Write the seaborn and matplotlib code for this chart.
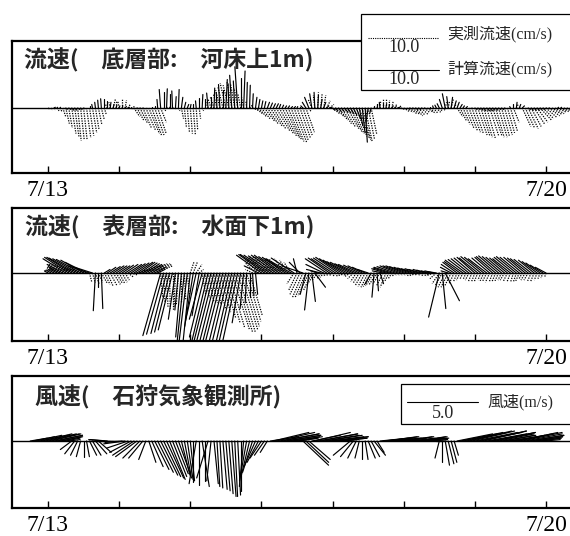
import numpy as np
import pandas as pd
import matplotlib
matplotlib.use("Agg")
import matplotlib.pyplot as plt
from matplotlib.patches import Rectangle
import seaborn as sns

# ---------------- data ----------------
tick_days = [0, 1, 2, 3, 4, 5, 6, 7]
tick_labels = ["7/13", "", "", "", "", "", "", "7/20"]
titles = ["流速(　底層部:　河床上1m)", "流速(　表層部:　水面下1m)", "風速(　石狩気象観測所)"]
legend_labels_current = ["実測流速(cm/s)", "計算流速(cm/s)"]
legend_label_wind = "風速(m/s)"
scale_current = 10.0   # cm/s
scale_wind = 5.0       # m/s

# hourly time steps (hours after 7/13 0:00)
hours_bottom = list(range(0, 177))
hours_surface = list(range(0, 169))
hours_wind = list(range(-6, 169))

# ---- bottom layer, observed (cm/s) ----
u_obs_bottom = (
    [0.3, 0.2, 0.2, 0.3, 0.3, 0.4, 0.5, 0.5, 0.6, 0.6, 0.5, 0.5, 0.5, 0.6, 0.6, 0.6, 0.5, 0.5, 0.4, 0.3, -0.3, -0.2, 0.3, 0.1]
    + [-0.2, 0.0, 0.2, 0.3, 0.5, 0.8, 1.0, 1.1, 1.2, 1.4, 1.5, 1.4, 1.3, 1.2, 0.8, 0.3, 0.1, 0.1, 0.1, 0.2, 0.2, 0.3, 0.3, 0.3]
    + [0.3, 0.3, 0.2, 0.2, 0.2, 0.0, -0.3, -0.4, -0.5, -0.5, -0.6, -0.7, -0.8, -0.8, -0.7, -0.6, -0.5, -0.4, -0.3, -0.1, 0.5, 0.8, 1.0, 1.1]
    + [1.2, 1.4, 1.5, 1.7, 1.8, 1.9, 2.0, 2.0, 2.0, 1.9, 1.8, 1.8, 1.6, 1.5, 1.3, 1.2, 0.3, -0.5, -0.2, 0.1, 0.2, 0.3, 0.5, 0.6]
    + [1.0, 1.2, 1.3, 1.4, 1.5, 1.6, 1.6, 1.5, 1.5, 1.4, 1.2, 1.0, 0.9, 0.8, 0.2, 0.1, 0.1, 0.0, 0.0, 0.1, 0.2, 0.3, 0.5, 0.6]
    + [0.8, 0.9, 1.0, 1.0, 1.0, 0.9, 0.9, 0.8, 0.8, 0.7, 0.6, 0.6, 0.5, 0.4, 0.2, 0.2, 0.3, 0.3, 0.8, 0.9, 1.0, 1.1, 1.2, 1.2]
    + [1.2, 1.3, 1.3, 1.2, 1.2, 1.3, 1.3, 1.2, 1.2, 1.1, 1.1, 1.0, 1.0, 0.8, 0.3, 0.2, 1.2, 1.3, 1.4, 1.4, 1.5, 1.5, 1.6, 1.5]
    + [1.5, 1.5, 1.4, 1.3, 1.2, 1.1, 1.0, 0.9, 0.8])
v_obs_bottom = (
    [-0.2, -0.3, -0.3, -0.4, -0.5, -1.2, -2.2, -2.8, -3.6, -4.0, -4.6, -4.4, -4.5, -4.2, -3.9, -3.5, -3.0, -2.4, -1.6, -1.0, 0.6, 0.8, 1.2, 1.0]
    + [1.0, 1.3, 1.1, 0.5, 0.2, -1.2, -1.8, -2.2, -2.8, -3.2, -3.6, -3.9, -3.8, -3.6, -2.0, -0.4, 0.2, 0.2, 0.1, -0.2, -0.4, -1.5, -2.8, -3.4]
    + [-3.6, -3.8, -3.0, -1.5, -0.4, 0.3, 0.8, 1.2, 1.5, 2.0, 2.5, 3.0, 3.5, 3.2, 3.8, 3.4, 2.8, 2.0, 1.5, 1.0, 0.5, -0.3, -0.8, -1.2]
    + [-1.5, -1.8, -2.2, -2.6, -3.0, -3.2, -3.6, -3.9, -4.2, -4.5, -4.7, -4.9, -4.6, -4.3, -3.8, -3.4, -0.5, 1.2, 1.8, 2.2, 2.0, 1.8, 1.0, 0.5]
    + [-0.8, -1.2, -1.7, -2.2, -2.6, -2.9, -3.3, -3.6, -4.0, -4.2, -4.5, -4.8, -4.4, -3.7, 0.3, 0.6, 1.0, 1.2, 1.3, 1.1, 1.0, 0.6, 0.3, -0.2]
    + [-0.5, -0.6, -0.8, -0.9, -1.1, -1.0, -0.9, -0.7, -0.6, -0.8, -0.7, -0.6, -0.5, -0.3, 0.8, 1.0, 1.2, 0.6, -1.2, -1.8, -2.3, -2.8, -3.2, -3.4]
    + [-3.6, -3.8, -4.0, -4.1, -4.2, -4.0, -3.9, -4.1, -4.1, -3.9, -3.8, -3.5, -3.3, -2.0, 0.6, 0.3, -2.6, -2.8, -2.9, -2.6, -2.3, -2.0, -1.7, -1.5]
    + [-1.3, -1.1, -0.9, -0.8, -0.6, -0.5, -0.4, -0.3, -0.3])

# ---- bottom layer, computed (cm/s) ----
u_cal_bottom = (
    [0.2, 0.2, 0.2, 0.1, 0.1, 0.2, 0.2, 0.3, 0.3, 0.3, 0.3, 0.2, 0.2, 0.1, 0.0, -0.1, -0.1, -0.1, -0.1, 0.0, 0.0, 0.1, 0.1, 0.1]
    + [0.1, 0.1, 0.2, 0.2, 0.3, 0.3, 0.3, 0.2, 0.2, 0.1, 0.1, 0.0, 0.0, -0.1, -0.2, 0.0, 0.1, 0.0, -0.1, 0.1, 0.1, 0.2, 0.2, 0.2]
    + [0.1, 0.0, -0.1, 0.0, 0.1, 0.0, -0.2, 0.0, 0.1, -0.1, -0.2, 0.0, 0.2, -0.1, -0.3, -0.2, -0.4, 0.0, 0.2, 0.1, 0.1, 0.1, 0.2, 0.2]
    + [0.2, 0.2, 0.3, 0.3, 0.3, 0.3, 0.2, 0.2, 0.2, 0.2, 0.2, 0.2, 0.1, 0.0, -0.3, -0.5, -0.6, -0.3, -0.1, 0.1, 0.2, 0.3, 0.3, 0.3]
    + [0.3, 0.3, 0.4, 0.4, 0.5, 0.5, 0.5, 0.5, 0.6, 0.5, 0.4, 0.3, -0.3, -0.2, 0.0, 0.0, -0.1, 0.0, 0.1, 0.1, 0.2, 0.2, 0.3, 0.3]
    + [0.2, 0.2, 0.2, 0.2, 0.3, 0.3, 0.2, 0.2, 0.1, 0.0, -0.1, -0.2, -0.3, -0.4, -0.4, -0.2, 0.2, 0.3, 0.3, 0.3, 0.2, 0.2, 0.1, 0.1]
    + [0.3, 0.3, 0.3, 0.3, 0.4, 0.4, 0.3, 0.3, 0.3, 0.3, 0.2, 0.1, -0.1, 0.0, 0.1, 0.2, 0.3, 0.3, 0.3, 0.3, 0.3, 0.3, 0.2, 0.2]
    + [0.2, 0.2, 0.1, 0.1, 0.1, 0.1, 0.1, 0.0, 0.0])
v_cal_bottom = (
    [0.0, 0.0, 0.1, 0.1, 0.1, 0.0, -0.2, -0.2, -0.3, -0.3, -0.2, -0.2, -0.1, 0.0, 0.3, 0.5, 0.8, 1.1, 1.3, 1.2, 1.0, 0.8, 0.5, 0.4]
    + [0.3, 0.3, 0.2, 0.1, 0.0, 0.0, -0.1, -0.1, -0.1, 0.0, 0.0, 0.1, 0.3, 1.2, 2.6, 2.3, 2.7, 2.0, 2.4, 1.6, 2.6, 1.5, 0.8, 0.5]
    + [0.5, 0.6, 1.0, 1.4, 1.9, 1.2, 2.1, 1.6, 2.8, 2.2, 3.3, 2.6, 4.0, 3.4, 4.6, 3.8, 5.8, 4.2, 5.2, 3.6, 3.2, 2.0, 1.5, 1.2]
    + [1.0, 0.9, 0.8, 0.7, 0.6, 0.6, 0.5, 0.4, 0.3, 0.3, 0.2, 0.2, 0.2, 0.2, 0.3, 0.8, 1.5, 2.0, 2.2, 1.8, 1.2, 0.8, 0.3, 0.1]
    + [-0.3, -0.4, -0.5, -0.5, -0.6, -0.7, -0.8, -1.0, -1.5, -2.5, -3.5, -4.8, -2.0, -0.8, 0.3, 0.5, 0.8, 0.7, 0.6, 0.5, 0.3, 0.2, 0.1, 0.0]
    + [0.0, 0.0, -0.1, -0.1, -0.2, -0.2, -0.1, -0.1, 0.0, 0.1, 0.3, 0.4, 0.6, 1.2, 2.0, 1.6, 1.5, 1.0, 0.8, 0.5, 0.3, 0.2, 0.0, -0.1]
    + [-0.2, -0.2, -0.3, -0.4, -0.4, -0.4, -0.3, -0.3, -0.2, -0.2, -0.1, 0.0, 0.2, 0.5, 0.8, 0.5, 0.3, 0.0, -0.2, -0.3, -0.3, -0.3, -0.2, -0.2]
    + [-0.1, -0.1, 0.0, 0.0, 0.1, 0.1, 0.0, 0.0, 0.0])

# ---- surface layer, observed (cm/s) ----
u_obs_surface = (
    [-0.5, -0.8, -1.0, -1.4, -1.8, -2.2, -2.5, -2.5, -2.2, -2.0, -1.8, -1.6, -1.5, -1.0, 0.3, 0.4, 0.5, 0.6, 0.8, 0.8, 0.8, 0.9, 1.0, 0.9]
    + [0.8, 0.7, 0.6, 0.8, 1.0, 1.8, 2.5, 2.8, 3.0, 3.0, 3.0, 2.8, 2.5, 1.5, 0.3, 0.2, 0.2, 0.1, 0.0, -0.2, -0.3, 0.0, 0.2, 0.3]
    + [0.5, 0.6, 0.8, 0.6, 0.5, 0.6, 0.8, 0.9, 1.0, 1.2, 1.5, 1.8, 2.0, 2.2, 2.5, 2.5, 2.5, 2.4, 2.2, 2.0, 1.8, -1.0, -1.5, -1.8]
    + [-2.0, -2.2, -2.5, -2.5, -2.5, -2.2, -2.0, -1.8, -1.5, -1.2, -1.0, -1.0, -1.2, -1.4, -1.5, -1.5, -1.5, -1.2, -1.0, -0.8, -0.5, -0.5, -0.5, -0.5]
    + [-0.5, -0.4, -0.3, -0.4, -0.5, -0.6, -0.8, -0.8, -0.8, -0.9, -1.0, -1.0, -1.0, -1.1, -1.2, -1.1, -1.0, -0.9, -0.8, -0.6, -0.5, -0.4, -0.3, -0.3]
    + [-0.3, -0.3, -0.3, -0.4, -0.5, -0.5, -0.4, -0.4, -0.5, -0.6, -0.8, -0.9, -1.0, -1.0, -1.0, -1.0, -0.9, -0.7, -0.5, -0.5, -0.4, -0.4, -0.5, -0.5]
    + [-0.5, -0.5, -0.4, -0.5, -0.6, -0.6, -0.5, -0.5, -0.5, -0.5, -0.6, -0.6, -0.5, -0.4, -0.4, -0.5, -0.5, -0.6, -0.6, -0.5, -0.5, -0.4, -0.3, -0.3]
    + [-0.2])
v_obs_surface = (
    [0.3, 0.4, 0.6, 0.8, 1.0, 1.2, 1.3, 1.4, 1.0, 0.9, 0.8, 0.6, 0.5, 0.3, -1.2, -1.4, -1.5, -1.3, -1.4, -1.6, -1.8, -1.7, -1.6, -1.5]
    + [-1.5, -1.3, -1.0, -0.6, -0.3, 0.2, 0.8, 1.0, 1.2, 1.3, 1.3, 1.2, 1.0, 0.8, -3.5, -4.2, -4.8, -5.0, -5.2, -4.9, -4.5, -4.2, -3.8, -3.0]
    + [1.5, 1.6, 1.2, 0.5, -3.0, -3.5, -4.0, -4.2, -4.5, -5.0, -5.5, -6.3, -7.0, -7.6, -8.0, -8.3, -8.4, -8.0, -7.5, -6.8, -6.0, 0.5, 1.5, 1.8]
    + [2.0, 2.2, 2.3, 2.3, 2.2, 2.0, 1.8, 1.9, 2.0, 1.8, 1.5, -1.5, -2.5, -3.0, -3.5, -3.4, -3.2, -2.5, -1.5, -1.0, -0.8, -0.6, -0.5, -0.4]
    + [-0.4, -0.5, -0.5, -0.4, -0.3, -0.4, -0.5, -0.8, -1.2, -1.5, -1.8, -1.9, -2.0, -1.9, -1.8, -1.6, -1.5, -1.8, -2.0, -1.2, -0.8, -0.5, -0.3, -0.3]
    + [-0.3, -0.3, -0.4, -0.4, -0.3, -0.3, -0.3, -0.4, -0.5, -0.4, -0.3, -0.8, -1.5, -1.8, -2.0, -2.0, -1.8, -1.5, -1.2, -1.0, -0.8, -0.9, -1.0, -1.2]
    + [-1.3, -1.2, -1.0, -1.1, -1.2, -1.3, -1.3, -1.2, -1.1, -1.0, -1.0, -1.2, -1.3, -1.3, -1.2, -1.1, -0.9, -1.0, -1.0, -1.1, -1.2, -1.0, -0.8, -0.7]
    + [-0.6])

# ---- surface layer, computed (cm/s) ----
u_cal_surface = (
    [-0.5, -0.6, -0.8, -1.0, -1.5, -2.2, -3.2, -3.4, -3.5, -3.6, -3.5, -3.4, -3.2, -3.0, -3.0, -2.5, -0.3, 0.0, 0.2, 0.8, 1.2, 1.4, 1.5, 1.5]
    + [1.5, 1.6, 1.8, 1.9, 2.0, 2.1, 2.2, 2.1, 2.0, 1.9, 1.8, 1.6, 1.5, 1.0, -2.5, -2.4, -2.2, -2.1, -2.0, -1.0, -0.5, -0.8, -1.0, -1.2]
    + [-1.0, -1.2, -1.5, -1.0, -1.8, -2.2, -2.5, -2.7, -2.8, -2.9, -3.0, -3.0, -2.8, -2.7, -2.5, -2.4, -2.2, -1.2, -0.5, -0.2, 0.0, 0.2, 0.3, -2.0]
    + [-3.5, -3.6, -3.8, -3.7, -3.5, -3.5, -3.5, -3.3, -3.2, -3.3, -3.5, -3.2, -0.5, -1.5, -3.0, -0.8, -0.6, 0.5, 1.5, -1.0, -2.0, -2.5, -3.0, -3.0]
    + [-3.0, -3.1, -3.2, -3.1, -3.0, -2.9, -2.8, -2.6, -2.5, -2.2, -2.0, -1.8, -1.5, -0.8, -0.3, 0.2, 0.5, -1.5, -2.0, -2.2, -2.5, -2.5, -2.5, -2.5]
    + [-2.5, -2.4, -2.2, -2.1, -2.0, -1.9, -1.8, -1.6, -1.5, -1.3, -1.2, -1.2, -1.5, 0.5, 2.0, -1.0, -1.5, -1.8, -2.0, -2.2, -2.5, -2.5, -2.5, -2.5]
    + [-2.5, -2.6, -2.8, -2.7, -2.6, -2.5, -2.5, -2.7, -2.8, -2.7, -2.6, -2.5, -2.5, -2.7, -2.8, -2.7, -2.6, -2.5, -2.5, -2.4, -2.2, -2.1, -2.0, -1.8]
    + [-1.5])
v_cal_surface = (
    [0.3, 0.4, 0.5, 0.6, 0.8, 1.2, 2.0, 2.2, 2.2, 2.1, 2.0, 1.9, 1.8, 1.5, 1.0, 0.8, -5.3, -2.0, -5.0, 0.5, 0.8, 0.9, 1.0, 1.0]
    + [1.0, 1.1, 1.2, 1.2, 1.3, 1.4, 1.5, 1.5, 1.4, 1.3, 1.2, 1.0, 0.8, 0.5, -8.8, -8.6, -8.5, -8.3, -8.0, -6.5, -5.2, -9.0, -9.5, -10.0]
    + [-9.5, -7.5, -6.7, -6.0, -6.5, -9.0, -10.5, -10.8, -11.0, -11.5, -12.0, -11.8, -11.5, -11.2, -11.0, -10.5, -10.0, -7.0, -5.0, -4.2, -3.4, -3.2, -3.0, 1.0]
    + [2.5, 2.6, 2.6, 2.5, 2.4, 2.5, 2.5, 2.3, 2.2, 2.0, 2.0, 2.1, 2.0, 1.5, 1.0, -3.0, -5.2, -4.0, -2.0, 0.3, 0.5, 1.2, 2.0, 2.1]
    + [2.0, 2.1, 2.2, 2.0, 1.8, 1.6, 1.5, 1.3, 1.2, 1.1, 1.0, 0.8, 0.5, -1.5, -3.4, -2.5, -1.5, 0.3, 0.6, 0.7, 0.8, 0.9, 1.0, 1.0]
    + [1.0, 0.9, 0.8, 0.7, 0.6, 0.6, 0.5, 0.5, 0.4, 0.3, 0.3, 0.2, -6.2, -5.0, -3.9, 0.3, 0.8, 1.2, 1.5, 1.6, 1.8, 1.9, 2.0, 2.1]
    + [2.2, 2.1, 2.3, 2.2, 2.0, 2.1, 2.2, 2.3, 2.4, 2.3, 2.2, 2.1, 2.0, 2.2, 2.3, 2.2, 2.2, 2.1, 2.0, 1.9, 1.8, 1.6, 1.4, 1.1]
    + [0.8])

# ---- wind at Ishikari (m/s) ----
u_wind = (
    [1.2, 1.5, 1.8, 2.0, 2.1, 2.2]
    + [2.2, 2.1, 2.0, 1.8, 1.6, 1.3, 1.0, 0.8, -0.8, -0.7, -0.5, -0.3, 0.0, 0.2, 0.5, 0.6, 0.8, 0.9, -1.0, -1.1, -1.2, -1.0, -0.8, -0.9]
    + [-1.0, -1.2, -1.5, -1.5, -1.5, -1.5, -1.5, -1.2, -1.0, -0.5, 0.5, 0.8, 1.0, 1.1, 1.2, 1.2, 1.2, 1.1, 1.0, 0.9, 0.8, 0.6, 0.5, 0.4]
    + [0.3, 0.0, -0.5, 0.0, 0.5, 0.0, -0.8, -0.3, 0.3, 0.2, 0.2, 0.3, 0.3, 0.3, 0.3, 0.2, 0.2, 0.0, -0.3, -0.5, -0.6, -0.7, -0.8, -0.8]
    + [-0.8, -0.7, -0.5, 2.0, 2.5, 2.7, 2.8, 2.6, 2.5, 2.3, 2.2, 1.8, 1.5, 1.2, 1.8, 1.6, 1.5, 2.0, 2.5, 2.8, 2.6, 2.5, 2.5, 2.4]
    + [2.5, 2.3, 2.0, 1.8, 1.0, 0.5, -1.2, -0.9, -0.6, -0.3, 0.0, 0.2, 0.5, 0.6, 0.8, 0.5, 2.0, 2.1, 2.2, 2.1, 2.0, 1.9, 1.8, 1.8]
    + [2.0, 1.9, 1.8, 1.9, 2.0, 1.9, 1.8, 1.6, 1.5, 1.2, 1.0, 0.5, -0.3, 0.0, 0.3, 0.4, 0.4, 0.3, 2.5, 2.6, 2.8, 2.9, 3.0, 3.0]
    + [3.0, 3.1, 3.2, 3.0, 2.8, 2.9, 3.0, 2.8, 2.5, 2.3, 2.2, 2.1, 2.0, 2.2, 2.5, 2.7, 2.8, 2.6, 2.5, 2.3, 2.0, 1.8, 1.5, 1.2]
    + [1.0])
v_wind = (
    [0.2, 0.3, 0.4, 0.4, 0.5, 0.5]
    + [0.5, 0.5, 0.4, 0.4, 0.3, 0.3, 0.2, 0.1, -0.6, -0.9, -1.0, -1.1, -1.1, -1.1, -1.0, -1.0, -0.9, -0.8, 0.0, 0.1, 0.1, 0.0, 0.0, 0.0]
    + [0.0, -0.1, -0.2, -0.5, -0.8, -1.0, -1.1, -1.2, -1.2, -1.3, -1.5, -1.8, -2.0, -2.2, -2.4, -2.5, -2.6, -2.7, -2.5, -2.3, -2.2, -2.4, -2.6, -2.7]
    + [-2.8, -2.9, -3.0, -3.1, -3.2, -2.8, -2.6, -2.8, -3.0, -3.2, -3.3, -3.4, -3.5, -3.7, -3.9, -3.9, -3.8, -3.5, -3.2, -2.8, -2.5, -2.2, -1.8, -1.5]
    + [-1.2, -1.0, -0.8, 0.3, 0.6, 0.6, 0.5, 0.5, 0.4, 0.4, 0.3, 0.3, 0.2, 0.2, -1.7, -1.5, -1.3, 0.4, 0.6, 0.5, 0.5, 0.4, 0.4, 0.3]
    + [0.3, 0.3, 0.2, 0.2, 0.1, 0.0, -1.0, -1.1, -1.2, -1.2, -1.3, -1.3, -1.2, -1.1, -1.0, -0.8, 0.2, 0.2, 0.3, 0.3, 0.2, 0.2, 0.2, 0.2]
    + [0.3, 0.3, 0.2, 0.2, 0.2, 0.3, 0.3, 0.2, 0.2, 0.1, 0.1, 0.0, -1.2, -1.5, -1.7, -1.6, -1.5, -1.0, 0.5, 0.5, 0.6, 0.6, 0.7, 0.7]
    + [0.6, 0.6, 0.7, 0.7, 0.5, 0.5, 0.6, 0.6, 0.5, 0.4, 0.4, 0.3, 0.3, 0.4, 0.5, 0.6, 0.6, 0.5, 0.4, 0.4, 0.3, 0.3, 0.2, 0.2]
    + [0.1])

# ---------------- layout (pixels) ----------------
W, H = 570, 536
PX_DAY = (546 - 48) / 7.0          # pixels per day
X0_PX, DAY0_PX = 12, 48            # left spine, 7/13 tick
AX_W_PX = 568
panels_px = [(41, 108, 173), (208, 273, 341), (376, 441, 508)]  # top, zero, bottom
CM_DAY = 1.0 / scale_current       # 10 cm/s drawn as one day
MS_DAY = 1.0 / scale_wind          # 5 m/s drawn as one day
px_per_unit = [PX_DAY * CM_DAY, PX_DAY * CM_DAY, PX_DAY * MS_DAY]

sns.set_theme(style="white")
plt.rcParams["font.family"] = ["Liberation Serif", "Noto Sans CJK JP", "DejaVu Sans"]
plt.rcParams["axes.linewidth"] = 1.6

fig = plt.figure(figsize=(W / 100, H / 100), dpi=100)
fig.patch.set_facecolor("white")

xlim = ((X0_PX - DAY0_PX) / PX_DAY, (X0_PX - DAY0_PX + AX_W_PX) / PX_DAY)


def stick_frame(hours, u, v, fac):
    t = np.asarray(hours, dtype=float) / 24.0
    u = np.asarray(u, dtype=float)
    v = np.asarray(v, dtype=float)
    n = len(t)
    x = np.column_stack([t, t + u * fac]).ravel()
    y = np.column_stack([np.zeros(n), v]).ravel()
    return pd.DataFrame({"x": x, "y": y, "id": np.repeat(np.arange(n), 2)})


def draw_sticks(ax, df, dotted):
    if dotted:
        kw = dict(color="black", lw=0.9, linestyle=(0, (1, 1)))
    else:
        kw = dict(color="black", lw=0.85)
    sns.lineplot(data=df, x="x", y="y", units="id", estimator=None, sort=False,
                 ax=ax, legend=False, **kw)


axes = []
for i, (top, zero, bot) in enumerate(panels_px):
    ax = fig.add_axes([X0_PX / W, (H - bot) / H, AX_W_PX / W, (bot - top) / H])
    axes.append(ax)

ax1, ax2, ax3 = axes
draw_sticks(ax1, stick_frame(hours_bottom, u_obs_bottom, v_obs_bottom, CM_DAY), True)
draw_sticks(ax1, stick_frame(hours_bottom, u_cal_bottom, v_cal_bottom, CM_DAY), False)
draw_sticks(ax2, stick_frame(hours_surface, u_obs_surface, v_obs_surface, CM_DAY), True)
draw_sticks(ax2, stick_frame(hours_surface, u_cal_surface, v_cal_surface, CM_DAY), False)
draw_sticks(ax3, stick_frame(hours_wind, u_wind, v_wind, MS_DAY), False)

title_pos = [(24, 60), (25, 227), (35, 397)]
for i, ax in enumerate(axes):
    top, zero, bot = panels_px[i]
    ax.set_xlim(*xlim)
    ppu = px_per_unit[i]
    ax.set_ylim(-(bot - zero) / ppu, (zero - top) / ppu)
    ax.axhline(0, color="black", lw=1.0, zorder=3)
    ax.set_xticks(tick_days)
    ax.set_xticklabels(tick_labels)
    ax.set_yticks([])
    ax.set_xlabel("")
    ax.set_ylabel("")
    ax.tick_params(axis="x", direction="in", length=5, width=1.0, pad=5,
                   labelsize=17, bottom=True, colors="black")
    for s in ax.spines.values():
        s.set_color("black")
        s.set_linewidth(1.6)
    tx, ty = title_pos[i]
    ax.text((tx - X0_PX) / AX_W_PX, (bot - ty) / (bot - top), titles[i],
            transform=ax.transAxes, ha="left", va="center", fontsize=16.5,
            fontweight="bold", family=["Noto Sans CJK JP", "DejaVu Sans"], zorder=6)


def px2data(i, xp, yp):
    top, zero, bot = panels_px[i]
    return (xp - DAY0_PX) / PX_DAY, (zero - yp) / px_per_unit[i]


lab_family = ["Liberation Serif", "Noto Sans CJK JP"]

# legend of panel 1
bx, by_top = px2data(0, 361, 14)
_, by_bot = px2data(0, 361, 90)
ax1.add_patch(Rectangle((bx, by_bot), 5.0, by_top - by_bot, facecolor="white",
                        edgecolor="black", lw=0.9, clip_on=False, zorder=5))
for k, (yl, ytxt, ylab) in enumerate([(38, 47, 34), (70, 80, 69)]):
    lx, ly = px2data(0, 368, yl)
    seg_x = np.array([lx, lx + scale_current * CM_DAY])
    ax1.plot(seg_x, [ly, ly], color="black", lw=0.8,
             linestyle=(0, (1, 1)) if k == 0 else "-", clip_on=False, zorder=6)
    _, ty = px2data(0, 0, ytxt)
    ax1.text(seg_x.mean(), ty, f"{scale_current:.1f}", ha="center", va="center",
             fontsize=13, family="Liberation Serif", zorder=6, clip_on=False)
    lxx, lyy = px2data(0, 447, ylab)
    ax1.text(lxx, lyy, legend_labels_current[k], ha="left", va="center",
             fontsize=11.5, family=lab_family, zorder=6, clip_on=False)

# legend of panel 3
bx, by_top = px2data(2, 401, 384)
_, by_bot = px2data(2, 401, 424)
ax3.add_patch(Rectangle((bx, by_bot), 5.0, by_top - by_bot, facecolor="white",
                        edgecolor="black", lw=0.9, clip_on=False, zorder=5))
lx, ly = px2data(2, 407, 402)
seg_x = np.array([lx, lx + scale_wind * MS_DAY])
ax3.plot(seg_x, [ly, ly], color="black", lw=0.8, clip_on=False, zorder=6)
_, ty = px2data(2, 0, 413)
ax3.text(seg_x.mean(), ty, f"{scale_wind:.1f}", ha="center", va="center",
         fontsize=13, family="Liberation Serif", zorder=6)
lxx, lyy = px2data(2, 487, 402)
ax3.text(lxx, lyy, legend_label_wind, ha="left", va="center", fontsize=11.5,
         family=lab_family, zorder=6)

fig.savefig("out.png", dpi=100, facecolor="white")
